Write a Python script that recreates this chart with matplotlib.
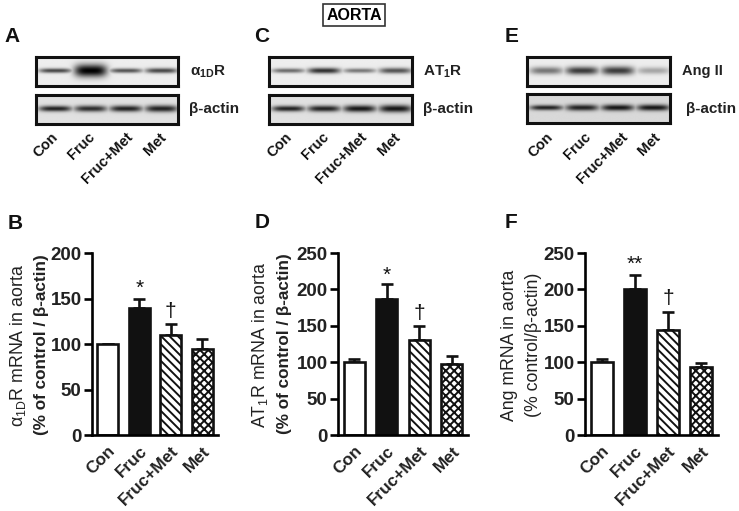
import numpy as np
import matplotlib
matplotlib.use("Agg")
import matplotlib.pyplot as plt

plt.rcParams['font.family'] = ['Liberation Sans', 'DejaVu Sans']
plt.rcParams['mathtext.fontset'] = 'custom'
plt.rcParams['mathtext.rm'] = 'Liberation Sans'
plt.rcParams['mathtext.bf'] = 'Liberation Sans:bold'
plt.rcParams['mathtext.it'] = 'Liberation Sans'
plt.rcParams['hatch.linewidth'] = 1.4

W, H = 739, 511
groups = ["Con", "Fruc", "Fruc+Met", "Met"]

# bar values and the top of each error bar
b_values = [100, 140, 110, 95]
b_err_top = [100, 150, 122, 105.5]
d_values = [100, 187, 130.5, 97]
d_err_top = [105, 207, 150, 109]
f_values = [100, 200.5, 144, 94]
f_err_top = [104, 220, 169, 99]

# blot band darkness per lane
a_top = [0.7, 1.0, 0.65, 0.7]
a_actin = [0.85, 0.8, 0.85, 0.85]
c_top = [0.55, 0.8, 0.5, 0.65]
c_actin = [0.85, 0.85, 0.9, 0.9]
e_top = [0.5, 0.75, 0.75, 0.3]
e_actin = [0.85, 0.85, 0.9, 0.9]
# blot band thickness per lane (fraction of the blot height)
a_top_thick = [0.08, 0.22, 0.08, 0.09]
a_actin_thick = [0.1, 0.11, 0.11, 0.12]
c_top_thick = [0.08, 0.1, 0.08, 0.1]
c_actin_thick = [0.1, 0.11, 0.12, 0.13]
e_top_thick = [0.13, 0.14, 0.15, 0.12]
e_actin_thick = [0.09, 0.11, 0.11, 0.11]


def px_axes(fig, x0, y0, x1, y1):
    # pixel box measured from the top left of the picture
    return fig.add_axes([x0 / W, 1 - y1 / H, (x1 - x0) / W, (y1 - y0) / H])


def blot(fig, box, strength, thick, background=0.93):
    x0, y0, x1, y1 = box
    ax = px_axes(fig, x0, y0, x1, y1)
    xs = np.linspace(0, 1, 300)
    ys = np.linspace(0, 1, 80)
    X, Y = np.meshgrid(xs, ys)
    dark = np.zeros_like(X)
    for i in range(len(strength)):
        c = 0.135 + i * 0.25
        half = 0.115
        across = np.exp(-((np.abs(X - c) / half) ** 4))
        down = np.exp(-((Y - 0.47) / thick[i]) ** 2)
        dark = np.maximum(dark, strength[i] * across * down)
    ax.imshow(background - dark * background, cmap="gray", vmin=0, vmax=1,
              extent=[0, 1, 1, 0], aspect="auto", interpolation="bilinear")
    ax.set_xticks([])
    ax.set_yticks([])
    for s in ax.spines.values():
        s.set_linewidth(2.2)
        s.set_color("#111111")
    return ax


def blot_labels(fig, x_list, y, fs=10.5):
    for i in range(len(groups)):
        fig.text(x_list[i] / W, 1 - y / H, groups[i], rotation=45, ha="right", va="top",
                 rotation_mode="anchor", fontsize=fs, fontweight="bold", color="#111111")


def bars(fig, box, values, err_top, ymax, step, notes):
    x0, y0, x1, y1 = box
    ax = px_axes(fig, x0, y0, x1, y1)
    x = np.arange(len(values))
    colors = ["white", "#111111", "white", "white"]
    hatches = [None, None, "\\\\\\\\", "xxxx"]
    ax.bar(x, values, width=0.66, color=colors, edgecolor="#111111", linewidth=1.9,
           hatch=hatches, zorder=2)
    upper = np.array(err_top) - np.array(values)
    ax.errorbar(x, values, yerr=[np.zeros(len(values)), upper], fmt="none", ecolor="#111111",
                elinewidth=1.9, capsize=4.5, capthick=1.9, zorder=1)
    ax.set_xlim(-0.5, 3.5)
    ax.set_ylim(0, ymax)
    ax.set_yticks(np.arange(0, ymax + 1, step))
    ax.set_xticks(x)
    ax.set_xticklabels(groups, rotation=45, ha="right", rotation_mode="anchor",
                       fontsize=12.3, fontweight="bold", color="#222222")
    ax.tick_params(axis="x", length=0, pad=6)
    ax.tick_params(axis="y", length=6, width=1.9, pad=1.5, labelsize=13.5, labelcolor="#222222")
    for lab in ax.get_yticklabels():
        lab.set_fontweight("bold")
    ax.spines["top"].set_visible(False)
    ax.spines["right"].set_visible(False)
    ax.spines["left"].set_linewidth(1.9)
    ax.spines["bottom"].set_linewidth(1.9)
    ax.patch.set_alpha(0)
    for i, mark, gap in notes:
        ax.text(i, err_top[i] + gap, mark, ha="center", va="center", fontsize=15, color="#111111")
    return ax


def ylabel(fig, x, y, text, weight="normal", fs=11.5):
    fig.text(x / W, 1 - y / H, text, rotation=90, ha="center", va="center",
             fontsize=fs, fontweight=weight, color="#222222")


fig = plt.figure(figsize=(W / 100, H / 100), dpi=100)

# title and panel letters
fig.text(354 / W, 1 - 15 / H, "AORTA", ha="center", va="center", fontsize=11.5, fontweight="bold",
         bbox=dict(facecolor="white", edgecolor="#333333", linewidth=1.2, boxstyle="square,pad=0.2"))
panel_pos = {"A": (4, 36), "C": (254, 36), "E": (505, 36), "B": (8, 223), "D": (255, 222), "F": (505, 222)}
for letter in panel_pos:
    px, py = panel_pos[letter]
    fig.text(px / W, 1 - py / H, letter, fontsize=15, fontweight="bold", ha="left", va="center", color="#111111")

# western blots
blot(fig, (36, 57, 178, 86), a_top, a_top_thick)
blot(fig, (36, 95, 178, 124), a_actin, a_actin_thick, 0.88)
blot(fig, (269, 57, 412, 86), c_top, c_top_thick)
blot(fig, (269, 95, 412, 124), c_actin, c_actin_thick, 0.88)
blot(fig, (527, 57, 670, 86), e_top, e_top_thick)
blot(fig, (527, 94, 670, 123), e_actin, e_actin_thick, 0.85)

fig.text(190 / W, 1 - 72 / H, r"$\mathbf{\alpha_{1D}R}$", fontsize=11, va="center", color="#222222")
fig.text(189 / W, 1 - 109 / H, "β-actin", fontsize=11, fontweight="bold", va="center", color="#222222")
fig.text(423 / W, 1 - 72 / H, r"$\mathbf{AT_{1}R}$", fontsize=11, va="center", color="#222222")
fig.text(423 / W, 1 - 109 / H, "β-actin", fontsize=11, fontweight="bold", va="center", color="#222222")
fig.text(682 / W, 1 - 71 / H, "Ang II", fontsize=10.5, fontweight="bold", va="center", color="#222222")
fig.text(686 / W, 1 - 109 / H, "β-actin", fontsize=11, fontweight="bold", va="center", color="#222222")

blot_labels(fig, [51, 88, 126, 159], 130)
blot_labels(fig, [285, 322, 360, 393], 130)
blot_labels(fig, [546, 584, 621, 653], 130)

# bar panels
bars(fig, (92, 253, 218, 435), b_values, b_err_top, 200, 50, [(1, "*", 11), (2, "†", 14)])
bars(fig, (338, 253, 468, 435), d_values, d_err_top, 250, 50, [(1, "*", 13), (2, "†", 17)])
bars(fig, (585, 253, 718, 435), f_values, f_err_top, 250, 50, [(1, "**", 15), (2, "†", 18)])

ylabel(fig, 18, 346, r"$\mathrm{\alpha_{1D}R\ mRNA\ in\ aorta}$", fs=12.8)
ylabel(fig, 42, 345, "(% of control / β-actin)", "bold", 12.3)
ylabel(fig, 260, 345, r"$\mathrm{AT_{1}R\ mRNA\ in\ aorta}$", fs=12.8)
ylabel(fig, 285, 344, "(% of control / β-actin)", "bold", 12.3)
ylabel(fig, 510, 345, "Ang mRNA in aorta", "normal", 12.7)
ylabel(fig, 533, 345, "(% control/β-actin)", "normal", 12.8)

fig.savefig("out.png", dpi=100)
